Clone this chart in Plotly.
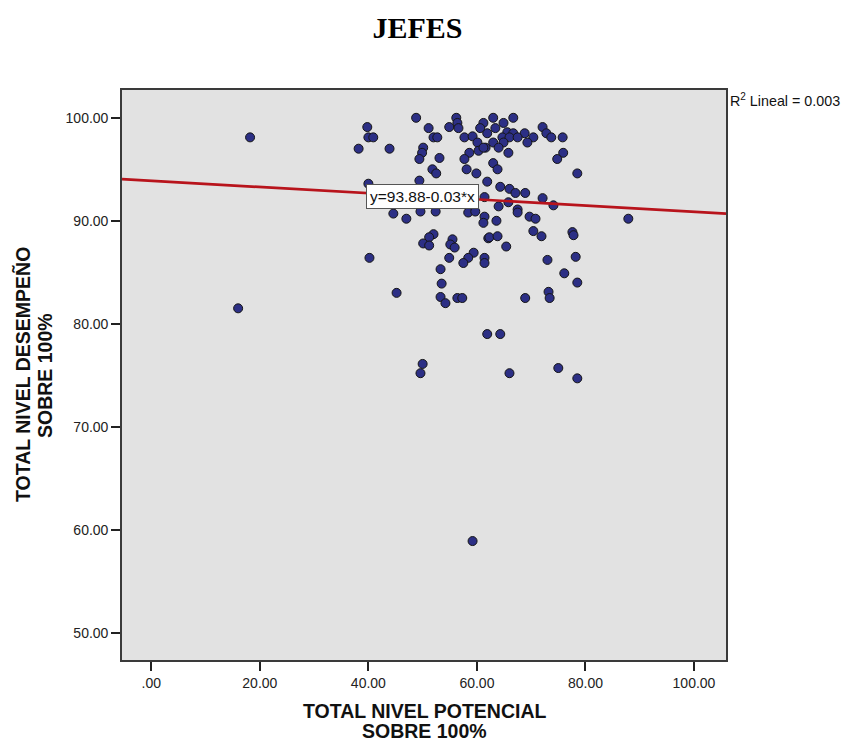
import numpy as np
import plotly.graph_objects as go

# Scatter data: potential score (x) vs. performance score (y), both out of 100
potencial = [
    48.8, 56.2, 56.4, 54.9, 56.6, 51.1, 39.8, 40.0, 40.9, 38.2,
    43.9, 52.0, 52.7, 50.1, 49.9, 49.4, 53.1, 51.8, 52.5, 58.1,
    59.9, 57.7, 59.2, 60.1, 61.2, 61.9, 58.6, 57.7, 60.3, 61.6,
    60.6, 63.0, 66.7, 64.9, 63.4, 65.6, 66.7, 68.8, 64.7, 66.0,
    67.5, 72.1, 72.8, 73.7, 75.8, 70.4, 63.0, 64.9, 69.3, 61.2,
    64.0, 65.8, 75.9, 74.8, 63.0, 63.8, 78.5, 61.9, 64.3, 66.0,
    67.1, 68.9, 72.1, 74.1, 61.4, 64.0, 65.8, 67.5, 87.9, 44.6,
    47.0, 49.6, 52.4, 58.4, 59.7, 61.4, 61.2, 62.1, 52.0, 51.2,
    50.1, 51.2, 55.5, 55.1, 55.9, 54.9, 53.3, 59.4, 58.4, 57.5,
    61.4, 61.4, 40.2, 45.2, 53.5, 53.3, 54.2, 56.4, 57.3, 63.6,
    67.5, 69.7, 70.8, 70.4, 71.9, 77.6, 77.8, 62.3, 63.8, 65.4,
    73.0, 78.2, 76.1, 78.5, 68.9, 73.2, 73.4, 61.9, 64.3, 50.0,
    49.6, 66.0, 75.0, 78.5, 18.2, 16.0, 59.2, 40.0, 49.4, 51.4,
    56.0,
]
desempeno = [
    100.0, 100.0, 99.5, 99.1, 99.0, 99.0, 99.1, 98.1, 98.1, 97.0,
    97.0, 98.1, 98.1, 97.1, 96.6, 96.0, 96.1, 95.0, 94.6, 95.0,
    94.6, 98.1, 98.2, 97.6, 99.5, 98.5, 96.6, 96.0, 96.8, 97.1,
    99.0, 100.0, 100.0, 99.5, 99.0, 98.6, 98.5, 98.5, 98.1, 98.1,
    98.1, 99.1, 98.5, 98.1, 98.1, 98.1, 97.6, 97.6, 97.6, 97.1,
    97.1, 96.6, 96.6, 96.0, 95.6, 95.0, 94.6, 93.8, 93.3, 93.1,
    92.7, 92.7, 92.2, 91.5, 92.3, 91.4, 91.8, 91.1, 90.2, 90.7,
    90.2, 90.9, 90.9, 90.8, 90.9, 90.4, 89.8, 88.3, 88.7, 88.4,
    87.8, 87.6, 88.2, 87.7, 87.4, 86.4, 85.3, 86.9, 86.4, 85.9,
    86.4, 85.9, 86.4, 83.0, 83.9, 82.6, 82.0, 82.5, 82.5, 90.0,
    90.8, 90.4, 90.2, 89.0, 88.5, 88.9, 88.6, 88.4, 88.5, 87.5,
    86.2, 86.5, 84.9, 84.0, 82.5, 83.1, 82.5, 79.0, 79.0, 76.1,
    75.2, 75.2, 75.7, 74.7, 98.1, 81.5, 58.9, 93.6, 93.9, 92.4,
    92.0,
]

# Linear fit reported on the chart
intercept = 93.88
slope = -0.03
r2 = 0.003

x_range = [-5.4, 105.9]
y_range = [47.35, 102.7]

x_tickvals = [0, 20, 40, 60, 80, 100]
x_ticktext = [".00", "20.00", "40.00", "60.00", "80.00", "100.00"]
y_tickvals = [50, 60, 70, 80, 90, 100]
y_ticktext = ["50.00", "60.00", "70.00", "80.00", "90.00", "100.00"]

x_title_lines = ["TOTAL NIVEL POTENCIAL", "SOBRE 100%"]
y_title_lines = ["TOTAL NIVEL DESEMPEÑO", "SOBRE 100%"]

sans = "Liberation Sans, Arial, sans-serif"
serif = "Liberation Serif, Times New Roman, serif"

fit_x = np.array(x_range)
fit_y = intercept + slope * fit_x

fig = go.Figure()

fig.add_trace(go.Scatter(
    x=potencial, y=desempeno, mode="markers",
    marker=dict(size=9, color="#2c2f85", line=dict(color="#151515", width=1)),
    showlegend=False, hoverinfo="x+y",
))

fig.add_trace(go.Scatter(
    x=fit_x, y=fit_y, mode="lines",
    line=dict(color="#b8141c", width=2.7),
    showlegend=False, hoverinfo="skip",
))

axis_common = dict(
    showgrid=False, zeroline=False,
    showline=True, mirror=True, linecolor="#3a3a3a", linewidth=1.6,
    ticks="outside", ticklen=9, tickwidth=1.5, tickcolor="#222222",
    tickfont=dict(family=sans, size=14, color="#222222"),
)

fig.update_xaxes(range=x_range, tickvals=x_tickvals, ticktext=x_ticktext, **axis_common)
fig.update_yaxes(range=y_range, tickvals=y_tickvals, ticktext=y_ticktext, **axis_common)

# Equation label sits on the fitted line at x = 50
label_x = 50
fig.add_annotation(
    x=label_x, y=intercept + slope * label_x, xref="x", yref="y",
    text=f"y={intercept:.2f}{slope:+.2f}*x", showarrow=False,
    font=dict(family=sans, size=15.5, color="#111111"),
    bgcolor="white", bordercolor="#555555", borderwidth=1, borderpad=3,
    xanchor="center", yanchor="middle",
)

fig.add_annotation(
    x=1.0, y=0.982, xref="paper", yref="paper", xshift=2,
    text=f"R<sup>2</sup> Lineal = {r2:.3f}", showarrow=False,
    font=dict(family=sans, size=14.3, color="#111111"),
    xanchor="left", yanchor="middle",
)

# Axis titles, one annotation per line for tight line spacing
title_font = dict(family=sans, size=19.5, color="#111111")
for line, ypos in zip(x_title_lines, [-0.0895, -0.1246]):
    fig.add_annotation(
        x=0.5, y=ypos, xref="paper", yref="paper",
        text=f"<b>{line}</b>", showarrow=False, font=title_font,
        xanchor="center", yanchor="middle",
    )
for line, xpos in zip(y_title_lines, [-0.1639, -0.1275]):
    fig.add_annotation(
        x=xpos, y=0.5, xref="paper", yref="paper",
        text=f"<b>{line}</b>", showarrow=False, textangle=-90, font=title_font,
        xanchor="center", yanchor="middle",
    )

fig.update_layout(
    width=842, height=742,
    margin=dict(l=122, r=116, t=90, b=82),
    paper_bgcolor="white", plot_bgcolor="#e2e2e2",
    title=dict(
        text="<b>JEFES</b>", x=417.5 / 842, y=1 - 27 / 742,
        xref="container", yref="container",
        xanchor="center", yanchor="middle",
        font=dict(family=serif, size=30, color="#000000"),
    ),
    showlegend=False,
)

fig.write_html("out.html")
